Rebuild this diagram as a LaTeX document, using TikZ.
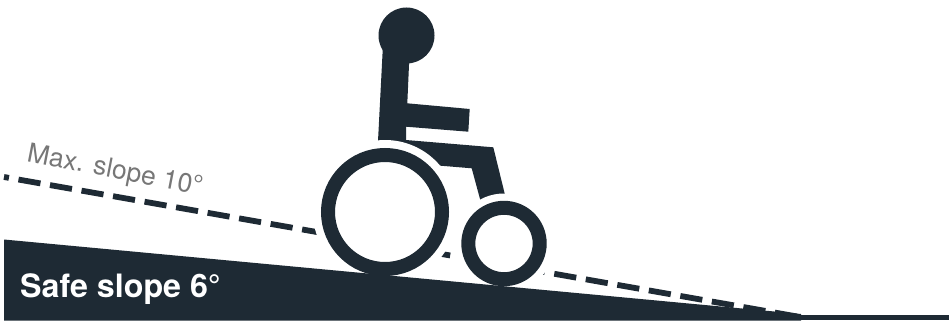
\documentclass[tikz,border=0pt]{standalone}
\usepackage{fontspec}
\setmainfont{TeX Gyre Heros}
\definecolor{ink}{HTML}{1E2A34}
\definecolor{lab}{HTML}{777777}
\tikzset{
  solidink/.style={fill=ink,draw=none},
  halo/.style={fill=white,draw=none},
  slopeline/.style={draw=ink,line width=5.8pt,dash pattern=on 22.3pt off 9.7pt,dash phase=17.3pt},
  wheel/.style={draw=ink,fill=none}
}
\begin{document}
\begin{tikzpicture}[x=1pt,y=-1pt]
\useasboundingbox (0,0) rectangle (952,321);
\fill[white] (0,0) rectangle (952,321);
% maximum slope
\coordinate (slopeA) at (4,177);
\coordinate (slopeB) at (800,317);
\draw[slopeline] (slopeA) -- (slopeB);
\node[lab,font=\fontsize{26.5}{27}\selectfont,rotate=-11,anchor=base west,inner sep=0pt] (maxlabel) at (26,161) {Max. slope 10°};
% body
\fill[solidink] (406.5,35.5) circle (28);
\fill[solidink] (379,33) -- (382.7,50) -- (377.7,147) -- (406,147) -- (406,126.7) -- (468.3,131.7) -- (469.7,109) -- (407.3,103.3) -- (409.3,58) -- cycle;
\fill[solidink] (400,139.5) -- (493.3,147.3) -- (507,203) -- (483,210) -- (471.7,168.3) -- (420,164) -- cycle;
% halos
\fill[halo] (385,212) circle (72);
\fill[halo] (504,243.5) circle (50);
% wheels
\draw[wheel,line width=14pt] (385,212) circle (57);
\draw[wheel,line width=14pt] (504,243.5) circle (35.7);
% ramp
\fill[solidink] (4,239.5) -- (801,314) -- (801,320.5) -- (4,320.5) -- cycle;
\fill[solidink] (801,314.5) rectangle (949,319.5);
\node[white,font=\bfseries\fontsize{32.2}{32}\selectfont,anchor=base west,inner sep=0pt] (safelabel) at (20,297) {Safe slope 6°};
\end{tikzpicture}
\end{document}
